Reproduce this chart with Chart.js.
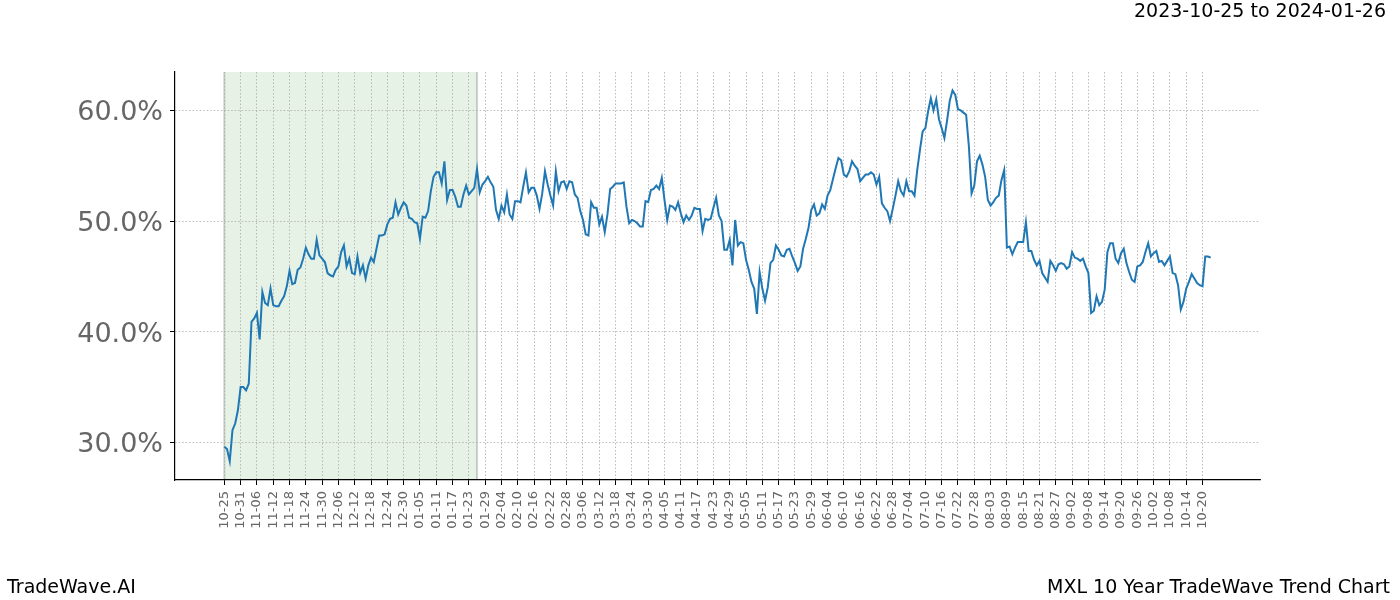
<!DOCTYPE html>
<html>
<head>
<meta charset="utf-8">
<script src="https://cdn.jsdelivr.net/npm/chart.js@4.4.1/dist/chart.umd.min.js"></script>
<style>
  body { margin: 0; background: #fff; }
  #wrap { width: 1400px; height: 600px; }
</style>
</head>
<body>
<div id="wrap"><canvas id="trendChart" width="1400" height="600"></canvas></div>
<script>
// --- datos (un valor por día, % ) ---
const startDate = '2022-10-25';      // solo para generar las etiquetas MM-DD
const titleText = '2023-10-25 to 2024-01-26';
const footerLeft = 'TradeWave.AI';
const footerRight = 'MXL 10 Year TradeWave Trend Chart';
const shadeStart = 0;
const shadeEnd = 93;
const yTicks = [30, 40, 50, 60];

const values = [
    29.6, 29.4, 28.3, 31.1, 31.7, 32.9, 35.0, 35.0, 34.7, 35.3,
    40.9, 41.2, 41.7, 39.3, 43.6, 42.6, 42.4, 43.9, 42.4, 42.3,
    42.3, 42.8, 43.2, 44.1, 45.5, 44.3, 44.4, 45.6, 45.8, 46.6,
    47.6, 47.0, 46.6, 46.6, 48.3, 46.9, 46.6, 46.3, 45.3, 45.1,
    45.0, 45.6, 45.9, 47.2, 47.8, 45.9, 46.6, 45.3, 45.2, 46.8,
    45.3, 46.0, 44.8, 46.0, 46.7, 46.3, 47.5, 48.7, 48.7, 48.8,
    49.7, 50.2, 50.3, 51.7, 50.6, 51.2, 51.7, 51.4, 50.3, 50.2,
    49.9, 49.8, 48.4, 50.4, 50.3, 50.9, 52.7, 54.0, 54.4, 54.4,
    53.4, 55.4, 51.9, 52.8, 52.8, 52.2, 51.3, 51.3, 52.4, 53.2,
    52.4, 52.7, 53.0, 54.7, 52.6, 53.3, 53.6, 54.0, 53.5, 53.1,
    51.0, 50.2, 51.4, 50.8, 52.4, 50.6, 50.2, 51.8, 51.8, 51.7,
    53.1, 54.4, 52.6, 53.0, 53.0, 52.3, 51.1, 52.5, 54.5, 53.3,
    52.3, 51.4, 54.5, 52.7, 53.5, 53.6, 52.9, 53.6, 53.5, 52.4,
    52.1, 50.9, 50.1, 48.8, 48.7, 51.7, 51.2, 51.2, 49.7, 50.4,
    49.0, 50.6, 52.9, 53.1, 53.4, 53.4, 53.4, 53.5, 51.3, 49.8,
    50.1, 50.0, 49.8, 49.5, 49.5, 51.8, 51.7, 52.8, 52.9, 53.2,
    52.9, 53.9, 51.9, 50.1, 51.4, 51.3, 51.0, 51.7, 50.7, 49.9,
    50.5, 50.1, 50.5, 51.2, 51.1, 51.1, 49.1, 50.2, 50.1, 50.2,
    51.2, 52.1, 50.5, 50.0, 47.4, 47.4, 48.3, 46.0, 50.1, 47.8,
    48.1, 48.0, 46.5, 45.6, 44.5, 43.9, 41.6, 45.4, 43.9, 42.8,
    44.0, 46.2, 46.5, 47.8, 47.4, 46.9, 46.8, 47.4, 47.5, 46.8,
    46.2, 45.5, 45.9, 47.5, 48.4, 49.4, 51.0, 51.5, 50.5, 50.7,
    51.5, 51.1, 52.3, 52.8, 53.8, 54.8, 55.7, 55.5, 54.2, 54.0,
    54.5, 55.4, 55.0, 54.7, 53.6, 53.9, 54.2, 54.2, 54.4, 54.2,
    53.3, 54.0, 51.6, 51.2, 50.9, 50.0, 51.1, 52.3, 53.6, 52.7,
    52.3, 53.6, 52.7, 52.7, 52.3, 54.6, 56.4, 58.1, 58.4, 59.9,
    61.1, 60.0, 61.0, 59.2, 58.4, 57.5, 59.1, 60.9, 61.8, 61.4,
    60.1, 60.0, 59.8, 59.6, 56.8, 52.5, 53.2, 55.4, 55.9, 55.1,
    54.0, 51.9, 51.4, 51.7, 52.1, 52.3, 53.7, 54.6, 47.6, 47.7,
    47.0, 47.6, 48.1, 48.1, 48.1, 49.9, 47.3, 47.3, 46.5, 46.0,
    46.4, 45.3, 44.9, 44.5, 46.4, 46.0, 45.5, 46.1, 46.2, 46.1,
    45.7, 45.9, 47.2, 46.7, 46.6, 46.4, 46.6, 45.9, 45.3, 41.7,
    41.9, 43.2, 42.4, 42.7, 43.8, 47.2, 48.0, 48.0, 46.6, 46.2,
    47.1, 47.5, 46.2, 45.4, 44.7, 44.5, 45.9, 46.0, 46.3, 47.2,
    48.0, 46.8, 47.1, 47.3, 46.3, 46.4, 46.0, 46.4, 46.8, 45.3,
    45.2, 44.2, 42.0, 42.7, 43.9, 44.5, 45.2, 44.8, 44.4, 44.2,
    44.1, 46.8, 46.8, 46.7
];

// etiquetas MM-DD para cada día
const dayLabels = [];
const d0 = new Date(startDate + 'T00:00:00Z');
for (let i = 0; i < values.length; i++) {
    const d = new Date(d0.getTime() + i * 86400000);
    dayLabels.push(String(d.getUTCMonth() + 1).padStart(2, '0') + '-' + String(d.getUTCDate()).padStart(2, '0'));
}
// un tick cada 6 días
const xTicks = [];
for (let i = 0; i < values.length; i += 6) xTicks.push(i);

const points = values.map((v, i) => ({ x: i, y: v }));
const span = values.length - 1;

Chart.defaults.font.family = "'DejaVu Sans', sans-serif";

// --- zona sombreada verde (debajo de la rejilla) ---
const shadePlugin = {
    id: 'shade',
    beforeDraw(chart) {
        const { ctx, chartArea, scales } = chart;
        const x1 = scales.x.getPixelForValue(shadeStart);
        const x2 = scales.x.getPixelForValue(shadeEnd);
        ctx.save();
        ctx.fillStyle = '#e6f2e6';
        ctx.fillRect(x1, chartArea.top, x2 - x1, chartArea.bottom - chartArea.top);
        ctx.strokeStyle = 'rgba(120,130,120,0.35)';
        ctx.lineWidth = 2;
        ctx.beginPath();
        ctx.moveTo(x1, chartArea.top); ctx.lineTo(x1, chartArea.bottom);
        ctx.moveTo(x2, chartArea.top); ctx.lineTo(x2, chartArea.bottom);
        ctx.stroke();
        ctx.restore();
    }
};

// --- textos: título y pie ---
const textPlugin = {
    id: 'texts',
    afterDraw(chart) {
        const ctx = chart.ctx;
        ctx.save();
        ctx.fillStyle = '#000';
        ctx.font = "19px 'DejaVu Sans'";
        ctx.textBaseline = 'middle';
        ctx.textAlign = 'right';
        ctx.fillText(titleText, 1386, 12);
        ctx.fillText(footerRight, 1390, 588);
        ctx.textAlign = 'left';
        ctx.fillText(footerLeft, 7, 588);
        ctx.restore();
    }
};

new Chart(document.getElementById('trendChart'), {
    type: 'line',
    data: {
        datasets: [{
            data: points,
            borderColor: '#1f77b4',
            borderWidth: 2,
            pointRadius: 0,
            tension: 0,
            fill: false
        }]
    },
    options: {
        responsive: false,
        animation: false,
        devicePixelRatio: 1,
        layout: { padding: { left: 0, right: 140, top: 72, bottom: 0 } },
        plugins: {
            legend: { display: false },
            tooltip: { enabled: false }
        },
        scales: {
            x: {
                type: 'linear',
                min: -span * 0.05,
                max: span * 1.05,
                afterBuildTicks: (s) => { s.ticks = xTicks.map(v => ({ value: v })); },
                afterFit: (s) => { s.height = 120; },
                ticks: {
                    autoSkip: false,
                    minRotation: 90,
                    maxRotation: 90,
                    padding: 6,
                    color: '#666',
                    font: { size: 13 },
                    callback: (v) => dayLabels[v]
                },
                grid: { color: '#aaa', lineWidth: 0.8, tickLength: 5, tickColor: '#000', tickWidth: 1 },
                border: { display: true, color: '#000', width: 1.2, dash: [1.5, 2] }
            },
            y: {
                min: 26.6,
                max: 63.47,
                afterBuildTicks: (s) => { s.ticks = yTicks.map(v => ({ value: v })); },
                afterFit: (s) => { s.width = 175; },
                ticks: {
                    padding: 7,
                    labelOffset: 3,
                    color: '#666',
                    font: { size: 27 },
                    callback: (v) => v.toFixed(1) + '%'
                },
                grid: { color: '#aaa', lineWidth: 0.8, tickLength: 5, tickColor: '#000', tickWidth: 1 },
                border: { display: true, color: '#000', width: 1.2, dash: [1.5, 2] }
            }
        }
    },
    plugins: [shadePlugin, textPlugin]
});
</script>
</body>
</html>
